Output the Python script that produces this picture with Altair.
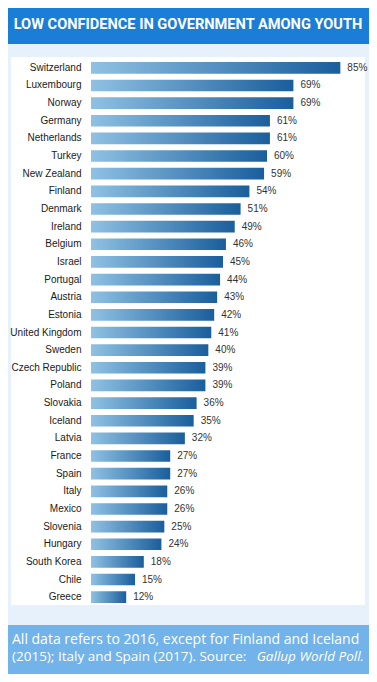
import altair as alt
import pandas as pd

countries = ["Switzerland", "Luxembourg", "Norway", "Germany", "Netherlands", "Turkey",
             "New Zealand", "Finland", "Denmark", "Ireland", "Belgium", "Israel", "Portugal",
             "Austria", "Estonia", "United Kingdom", "Sweden", "Czech Republic", "Poland",
             "Slovakia", "Iceland", "Latvia", "France", "Spain", "Italy", "Mexico", "Slovenia",
             "Hungary", "South Korea", "Chile", "Greece"]
values = [85, 69, 69, 61, 61, 60, 59, 54, 51, 49, 46, 45, 44, 43, 42, 41, 40, 39, 39,
          36, 35, 32, 27, 27, 26, 26, 25, 24, 18, 15, 12]

title_text = "LOW CONFIDENCE IN GOVERNMENT AMONG YOUTH"
note_line1 = "All data refers to 2016, except for Finland and Iceland"
note_line2a = "(2015); Italy and Spain (2017). Source: "
note_line2b = "Gallup World Poll."

df = pd.DataFrame({"country": countries, "value": values})
df["label"] = [f"{v}%" for v in values]
one = pd.DataFrame({"a": [0]})

W, H = 264, 547
SANS = "Liberation Sans"


def rect(x, x2, y, y2, color):
    return alt.Chart(one).mark_rect(color=color).encode(
        x=alt.value(x), x2=alt.value(x2), y=alt.value(y), y2=alt.value(y2))


def text(t, x, y, **kw):
    return alt.Chart(one).mark_text(text=t, **kw).encode(x=alt.value(x), y=alt.value(y))


title_bar = rect(-85, 280, -53, -15, "#1b7ed6")
panel = rect(-85, 280, -15, 566, "#e6f1fb")
white = rect(-80, 274, -2, 546, "#ffffff")
footer = rect(-85, 280, 566, 616, "#72b3e9")

title = text(title_text, 97, -34, font="Roboto", fontSize=14.6, fontWeight="bold",
             color="white", align="center", baseline="middle")
n1 = text(note_line1, -79, 581, font="Open Sans", fontSize=14, color="white",
          align="left", baseline="middle")
n2a = text(note_line2a, -79, 598, font="Open Sans", fontSize=13.5, color="white",
           align="left", baseline="middle")
n2b = text(note_line2b, 273, 598, font="Open Sans", fontSize=13.5, fontStyle="italic",
           color="white", align="right", baseline="middle")

grad = alt.Gradient(gradient="linear",
                    stops=[alt.GradientStop(color="#8fc1e3", offset=0),
                           alt.GradientStop(color="#1a5e9c", offset=1)],
                    x1=0, x2=1, y1=0, y2=0)

y_enc = alt.Y("country:N", sort=countries, title=None,
              scale=alt.Scale(paddingInner=0.34, paddingOuter=0.17),
              axis=alt.Axis(ticks=False, domain=False, labelPadding=10, zindex=1,
                            labelFont=SANS, labelFontSize=10,
                            labelColor="#1a1a1a"))
x_enc = alt.X("value:Q", scale=alt.Scale(domain=[0, 90]), axis=None)

bars = alt.Chart(df).mark_bar(color=grad).encode(x=x_enc, y=y_enc)
labels = alt.Chart(df).mark_text(align="left", baseline="middle", dx=7,
                                 font=SANS, fontSize=10,
                                 color="#333333").encode(x=x_enc, y=y_enc, text="label:N")

chart = alt.layer(title_bar, panel, white, footer, title, n1, n2a, n2b, bars, labels).properties(
    width=W, height=H,
    padding={"left": 83, "top": 51, "right": 14, "bottom": 68},
    autosize=alt.AutoSizeParams(type="none"),
).configure_view(strokeWidth=0)

chart.save("out.html", embed_options={"renderer": "svg", "actions": False})
